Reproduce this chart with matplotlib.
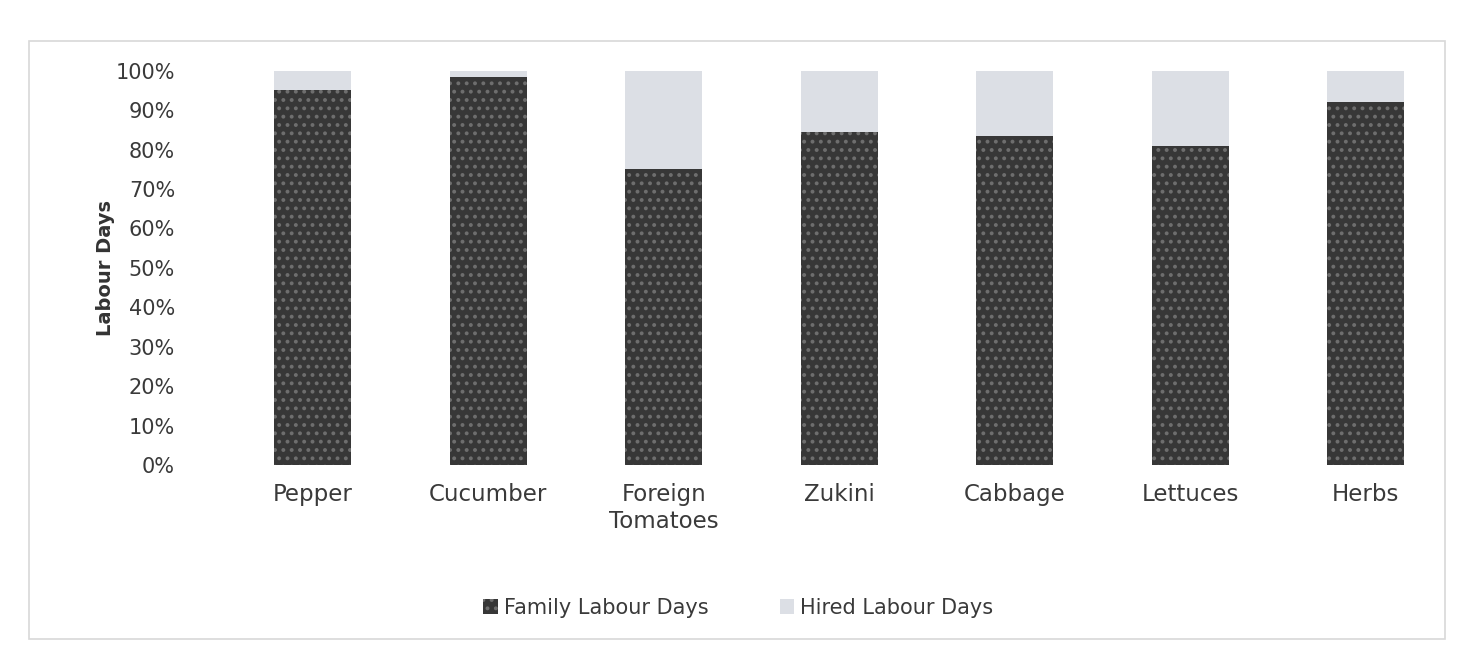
import matplotlib.pyplot as plt
import numpy as np
from matplotlib.patches import Rectangle

crops = ["Pepper", "Cucumber", "Foreign\nTomatoes", "Zukini", "Cabbage", "Lettuces", "Herbs"]
family_pct = [95, 98.5, 75, 84.5, 83.5, 81, 92]
hired_pct = [100 - v for v in family_pct]
ytick_vals = list(range(0, 101, 10))

plt.rcParams["font.family"] = ["DejaVu Sans"]
plt.rcParams["hatch.linewidth"] = 1.6

fig = plt.figure(figsize=(14.71, 6.55), dpi=100)
ax = fig.add_axes([0.153, 0.29, 0.835, 0.602])

x = np.arange(len(crops))
ax.bar(x, family_pct, width=0.44, color="#373737", edgecolor="#6e6e6e",
       linewidth=0, hatch="..", label="Family Labour Days")
ax.bar(x, hired_pct, bottom=family_pct, width=0.44, color="#dcdfe5",
       linewidth=0, label="Hired Labour Days")

ax.set_xlim(-0.5, len(crops) - 0.5)
ax.set_ylim(0, 100)
ax.set_yticks(ytick_vals)
ax.set_yticklabels([f"{v}%" for v in ytick_vals], fontsize=15, color="#3a3a3a")
ax.set_xticks(x)
ax.set_xticklabels(crops, fontsize=16.5, color="#3a3a3a", linespacing=1.2)
ax.tick_params(length=0)
ax.tick_params(axis="y", pad=36)
ax.tick_params(axis="x", pad=13)
for s in ax.spines.values():
    s.set_visible(False)

ax.set_ylabel("Labour Days", fontsize=14, fontweight="bold", color="#333333")
ax.yaxis.set_label_coords(-0.09, 0.5)

leg = fig.legend(loc="center", bbox_to_anchor=(0.502, 0.072), ncol=2, frameon=False,
                 fontsize=15, handlelength=0.7, handleheight=0.7,
                 handletextpad=0.3, columnspacing=3.4)
for t in leg.get_texts():
    t.set_color("#3a3a3a")

# light outline of the chart area
fig.add_artist(Rectangle((0.02, 0.025), 0.962, 0.912, transform=fig.transFigure,
                         fill=False, edgecolor="#d8d8d8", linewidth=1.2))

fig.savefig("out.png", dpi=100, facecolor="white")
